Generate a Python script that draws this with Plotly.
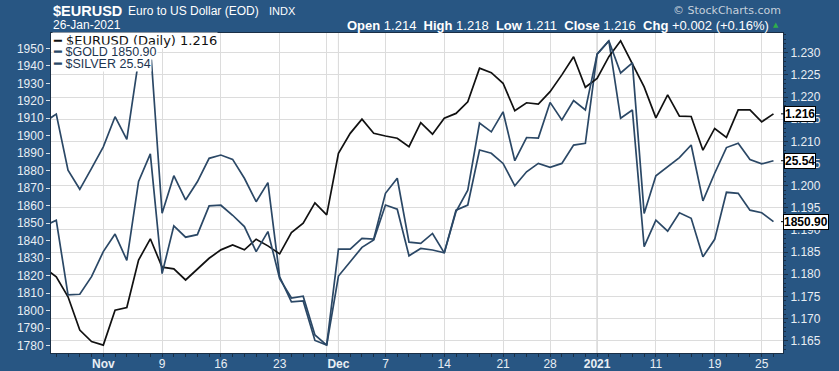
import plotly.graph_objects as go

# ---------------- data ----------------
dates = [
    "2020-10-26", "2020-10-27", "2020-10-28", "2020-10-29", "2020-10-30",
    "2020-11-02", "2020-11-03", "2020-11-04", "2020-11-05", "2020-11-06",
    "2020-11-09", "2020-11-10", "2020-11-11", "2020-11-12", "2020-11-13",
    "2020-11-16", "2020-11-17", "2020-11-18", "2020-11-19", "2020-11-20",
    "2020-11-23", "2020-11-24", "2020-11-25", "2020-11-27", "2020-11-30",
    "2020-12-01", "2020-12-02", "2020-12-03", "2020-12-04", "2020-12-07",
    "2020-12-08", "2020-12-09", "2020-12-10", "2020-12-11", "2020-12-14",
    "2020-12-15", "2020-12-16", "2020-12-17", "2020-12-18", "2020-12-21",
    "2020-12-22", "2020-12-23", "2020-12-24", "2020-12-28", "2020-12-29",
    "2020-12-30", "2020-12-31", "2021-01-04", "2021-01-05", "2021-01-06",
    "2021-01-07", "2021-01-08", "2021-01-11", "2021-01-12", "2021-01-13",
    "2021-01-14", "2021-01-15", "2021-01-19", "2021-01-20", "2021-01-21",
    "2021-01-22", "2021-01-25", "2021-01-26",
]

eurusd = [
    1.1814, 1.1794, 1.1749, 1.1674, 1.1648,
    1.1640, 1.1719, 1.1725, 1.1832, 1.1880,
    1.1816, 1.1812, 1.1787, 1.1811, 1.1836,
    1.1855, 1.1866, 1.1855, 1.1879, 1.1864,
    1.1846, 1.1894, 1.1915, 1.1961, 1.1934,
    1.2073, 1.2118, 1.2150, 1.2118, 1.2112,
    1.2107, 1.2088, 1.2142, 1.2116, 1.2152,
    1.2163, 1.2189, 1.2265, 1.2255, 1.2231,
    1.2169, 1.2187, 1.2184, 1.2212, 1.2250,
    1.2291, 1.2222, 1.2242, 1.2291, 1.2327,
    1.2276, 1.2223, 1.2153, 1.2205, 1.2157,
    1.2156, 1.2080, 1.2129, 1.2109, 1.2171,
    1.2171, 1.2144, 1.2162,
]

gold = [
    1907.9, 1912.4, 1880.4, 1869.4, 1881.4,
    1893.7, 1910.9, 1898.0, 1943.3, 1951.9,
    1855.7, 1877.2, 1863.3, 1873.7, 1887.1,
    1889.0, 1886.5, 1875.7, 1862.3, 1873.2,
    1819.4, 1805.1, 1805.6, 1783.0, 1780.4,
    1819.8, 1828.0, 1836.2, 1840.4, 1860.4,
    1858.0, 1831.4, 1835.6, 1834.7, 1833.1,
    1857.5, 1860.4, 1891.9, 1890.0, 1884.2,
    1871.4, 1879.4, 1884.2, 1882.0, 1884.2,
    1894.7, 1895.7, 1946.7, 1954.3, 1910.0,
    1914.7, 1836.6, 1851.8, 1845.5, 1856.0,
    1852.8, 1830.8, 1840.8, 1867.7, 1867.1,
    1857.5, 1856.0, 1850.90,
]

silver = [
    24.50, 24.59, 23.40, 23.41, 23.69,
    24.09, 24.37, 23.95, 25.21, 25.65,
    23.74, 24.50, 24.32, 24.36, 24.82,
    24.83, 24.67, 24.49, 24.09, 24.41,
    23.66, 23.35, 23.38, 22.76, 22.60,
    24.13, 24.13, 24.30, 24.29, 25.02,
    25.26, 24.24, 24.22, 24.38, 24.07,
    24.73, 25.07, 26.14, 26.00, 26.32,
    25.54, 25.91, 25.90, 26.47, 26.19,
    26.50, 26.35, 27.24, 27.45, 26.94,
    27.10, 24.70, 25.30, 25.44, 25.59,
    25.79, 24.90, 25.34, 25.75, 25.82,
    25.56, 25.49, 25.54,
]

tick_dates = ["2020-11-02", "2020-11-09", "2020-11-16", "2020-11-23", "2020-11-30",
              "2020-12-01", "2020-12-07", "2020-12-14", "2020-12-21", "2020-12-28",
              "2021-01-04", "2021-01-11", "2021-01-19", "2021-01-25"]
tick_text = ["<b>Nov</b>", "9", "16", "23", "", "<b>Dec</b>", "7", "14", "21", "28",
             "<b>2021</b>", "11", "19", "25"]
month_dates = ["2020-12-01", "2021-01-04"]

left_ticks = [1780, 1790, 1800, 1810, 1820, 1830, 1840, 1850, 1860, 1870,
              1880, 1890, 1900, 1910, 1920, 1930, 1940, 1950]
right_ticks = [1.165, 1.170, 1.175, 1.180, 1.185, 1.190, 1.195, 1.200,
               1.205, 1.210, 1.215, 1.220, 1.225, 1.230]

# ---------------- styling ----------------
BG = "#285683"
BLUE = "#2b4866"
FRAME = "#1a2f46"
TXT = "#e8eef4"
W, H = 839, 371
L, R, T, B = 51, 783, 33, 353

x = list(range(len(dates)))
pos = {d: i for i, d in enumerate(dates)}


def px(xp):
    return (xp - L) / (R - L)


def py(yp):
    return (B - yp) / (B - T)


fig = go.Figure()
fig.add_trace(go.Scatter(x=x, y=gold, yaxis="y", mode="lines", name="$GOLD",
                         line=dict(color=BLUE, width=1.7), hoverinfo="skip"))
fig.add_trace(go.Scatter(x=x, y=silver, yaxis="y3", mode="lines", name="$SILVER",
                         line=dict(color=BLUE, width=1.7), hoverinfo="skip"))
fig.add_trace(go.Scatter(x=x, y=eurusd, yaxis="y2", mode="lines", name="$EURUSD",
                         line=dict(color="#111111", width=1.7), hoverinfo="skip"))

shapes = []
for d in month_dates:
    shapes.append(dict(type="line", xref="x", yref="paper", x0=pos[d], x1=pos[d],
                       y0=0, y1=1, layer="below", line=dict(color="#b9b9b9", width=1)))

annotations = []
# header
annotations.append(dict(text="<b>$EURUSD</b>", xref="paper", yref="paper", x=px(51), y=py(10.5),
                        xanchor="left", yanchor="middle", showarrow=False,
                        font=dict(family="Liberation Sans", size=14.5, color="#ffffff")))
annotations.append(dict(text="Euro to US Dollar (EOD)", xref="paper", yref="paper", x=px(126), y=py(11),
                        xanchor="left", yanchor="middle", showarrow=False,
                        font=dict(family="Liberation Sans", size=12, color="#ffffff")))
annotations.append(dict(text="INDX", xref="paper", yref="paper", x=px(267), y=py(11),
                        xanchor="left", yanchor="middle", showarrow=False,
                        font=dict(family="Liberation Sans", size=11, color="#ffffff")))
annotations.append(dict(text="26-Jan-2021", xref="paper", yref="paper", x=px(51), y=py(25),
                        xanchor="left", yanchor="middle", showarrow=False,
                        font=dict(family="Liberation Sans", size=12, color="#ffffff")))
annotations.append(dict(text="<b>Open</b> 1.214  <b>High</b> 1.218  <b>Low</b> 1.211  "
                             "<b>Close</b> 1.216  <b>Chg</b> +0.002 (+0.16%)",
                        xref="paper", yref="paper", x=px(771), y=py(25),
                        xanchor="right", yanchor="middle", showarrow=False,
                        font=dict(family="Liberation Sans", size=13, color="#ffffff")))
annotations.append(dict(text="▲", xref="paper", yref="paper", x=px(776), y=py(25),
                        xanchor="center", yanchor="middle", showarrow=False,
                        font=dict(family="DejaVu Sans", size=7, color="#2fae4a")))
annotations.append(dict(text="© StockCharts.com", xref="paper", yref="paper", x=px(783), y=py(10),
                        xanchor="right", yanchor="middle", showarrow=False,
                        font=dict(family="DejaVu Sans", size=11, color="#c5d0db")))

# legend rows (opaque white boxes like the original)
legend_rows = [
    ('<span style="color:#111111">━</span> $EURUSD (Daily) 1.216', 40.7, "DejaVu Sans", 13, "#111111"),
    ('<span style="color:%s">━</span> $GOLD 1850.90' % BLUE, 52.5, "Liberation Sans", 12.5, "#1c3550"),
    ('<span style="color:%s">━</span> $SILVER 25.54' % BLUE, 64.2, "Liberation Sans", 12.5, "#1c3550"),
]
for txt, yy, fam, sz, col in legend_rows:
    annotations.append(dict(text=txt, xref="paper", yref="paper", x=px(52), y=py(yy),
                            xanchor="left", yanchor="middle", showarrow=False,
                            bgcolor="#ffffff", borderpad=0,
                            font=dict(family=fam, size=sz, color=col)))

# right-hand value labels
for val, yref, txt, shift in [(eurusd[-1], "y2", "1.216", 19),
                              (silver[-1], "y3", "25.54", 19),
                              (gold[-1], "y", "1850.90", 25)]:
    annotations.append(dict(text="<b>%s</b>" % txt, xref="paper", yref=yref, x=px(781), y=val,
                            ax=shift, ay=0, showarrow=True, arrowhead=0, arrowwidth=1,
                            arrowcolor="#000000", bgcolor="#ffffff", bordercolor="#000000",
                            borderwidth=1, borderpad=0,
                            font=dict(family="Liberation Sans", size=12, color="#000000")))

fig.update_layout(
    width=W, height=H,
    margin=dict(l=L, r=W - R, t=T, b=H - B, pad=0, autoexpand=False),
    paper_bgcolor=BG, plot_bgcolor="#ffffff",
    showlegend=False,
    font=dict(family="Liberation Sans", size=12, color=TXT),
    xaxis=dict(
        range=[0.552, 62.81], tickmode="array", automargin=False,
        tickvals=[pos[d] for d in tick_dates], ticktext=tick_text,
        showgrid=True, gridcolor="#dcdcdc", gridwidth=1, zeroline=False,
        showline=True, linecolor=FRAME, linewidth=1, mirror=True,
        ticks="", 
        minor=dict(tickmode="array", tickvals=x, ticks="outside", ticklen=3,
                   tickcolor=FRAME, showgrid=False),
        tickfont=dict(family="Liberation Sans", size=12, color=TXT),
    ),
    yaxis=dict(
        range=[1775.83, 1958.75], tickmode="array", tickvals=left_ticks, automargin=False,
        ticktext=[str(v) for v in left_ticks],
        showgrid=False, zeroline=False,
        showline=True, linecolor=FRAME, linewidth=1,
        ticks="outside", ticklen=4, tickcolor="#d8e0e8",
        tickfont=dict(family="Liberation Sans", size=12, color=TXT),
    ),
    yaxis2=dict(
        range=[1.16222, 1.23445], overlaying="y", side="right", automargin=False,
        tickmode="array", tickvals=right_ticks,
        ticktext=["%.3f" % v for v in right_ticks],
        showgrid=True, gridcolor="#dcdcdc", gridwidth=1, zeroline=False,
        showline=True, linecolor=FRAME, linewidth=1,
        ticks="outside", ticklen=4, tickcolor=FRAME,
        minor=dict(dtick=0.001, tick0=1.165, ticks="outside", ticklen=2,
                   tickcolor=FRAME, showgrid=False),
        tickfont=dict(family="Liberation Sans", size=12, color=TXT),
    ),
    yaxis3=dict(
        range=[22.473, 27.577], overlaying="y", visible=False, automargin=False,
    ),
    shapes=shapes,
    annotations=annotations,
)

fig.write_html("out.html",
               config={"displayModeBar": False, "staticPlot": True},
               post_script="document.body.style.margin='0px';"
                           "document.body.style.overflow='hidden';"
                           "document.body.style.background='%s';" % BG)
